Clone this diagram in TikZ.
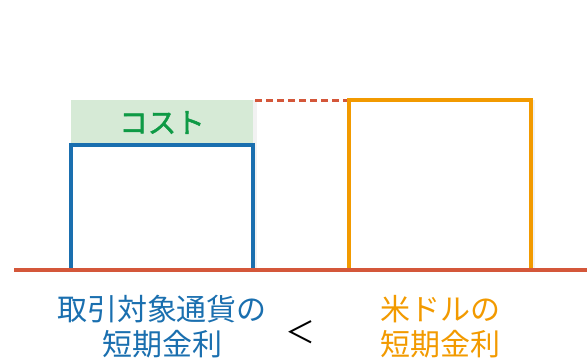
\documentclass[tikz,border=0pt]{standalone}
\usepackage{fontspec}
\setmainfont{Noto Sans CJK JP}
\newfontfamily\jpbold{Noto Sans CJK JP}[FakeBold=1.8]
\usetikzlibrary{shadows}
\definecolor{tblue}{HTML}{1A6FAF}
\definecolor{torange}{HTML}{F29A00}
\definecolor{tred}{HTML}{D4573A}
\definecolor{tgreen}{HTML}{0E9A45}
\definecolor{tgreenfill}{HTML}{D6EAD6}

\begin{document}
\begin{tikzpicture}[x=1pt,y=1pt,
    ratebox/.style={line width=3.4pt,minimum width=182pt,fill=white,
      drop shadow={opacity=0.1,shadow xshift=4pt,shadow yshift=0pt}},
    lbl/.style={align=center,font=\fontsize{30}{35}\selectfont}
  ]
  \useasboundingbox (0,0) rectangle (587,363);

  % コスト
  \node[fill=tgreenfill,minimum width=182pt,minimum height=45pt,
    text=tgreen,font=\jpbold\fontsize{28.5}{30}\selectfont,
    drop shadow={opacity=0.1,shadow xshift=4pt,shadow yshift=0pt}]
    (cost) at (162,240.5) {コスト};
  % 取引対象通貨の金利
  \node[ratebox,draw=tblue,minimum height=125pt] (target) at (162,155.5) {};
  % 米ドルの金利
  \node[ratebox,draw=torange,minimum height=170pt] (usd) at (440,178) {};

  % 基準線
  \coordinate (base l) at (14,93);
  \coordinate (base r) at (587,93);
  \draw[tred,line width=4pt] (base l) -- (base r);
  % 点線
  \coordinate (dash l) at ([xshift=2pt,yshift=-1pt]cost.north east);
  \draw[tred,line width=2.6pt,dash pattern=on 7pt off 4pt]
    (dash l) -- (usd.west |- dash l);

  % ラベル
  \node[lbl,text=tblue] (tlabel) at (162,36) {取引対象通貨の\\短期金利};
  \node[lbl,text=torange] (ulabel) at (440,36) {米ドルの\\短期金利};
  \node[font=\fontsize{30}{30}\selectfont] (lt) at (300,31) {＜};
\end{tikzpicture}
\end{document}
